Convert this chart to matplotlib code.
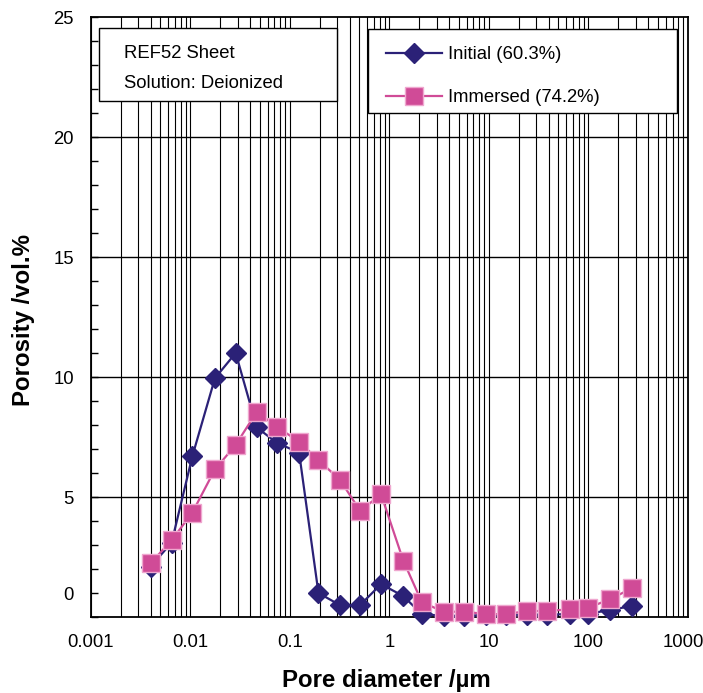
import numpy as np
import matplotlib
matplotlib.use("Agg")
import matplotlib.pyplot as plt
import matplotlib.transforms as mtransforms
from matplotlib.patches import Rectangle
from matplotlib.ticker import LogLocator, NullFormatter, FixedLocator

plt.rcParams['font.family'] = ['Liberation Sans', 'DejaVu Sans']

# pore diameter classes (um), shared by both curves
diameter = [0.004, 0.0065, 0.0105, 0.0177, 0.0286, 0.0466, 0.0739, 0.124,
            0.194, 0.32, 0.509, 0.826, 1.38, 2.12, 3.5, 5.65, 9.4, 14.9,
            24.1, 38.3, 64.6, 100, 165, 273]

initial = [2.1, 3.1, 6.7, 9.95, 11.0, 7.9, 7.26, 6.85,
           1.0, 0.49, 0.5, 1.37, 0.87, 0.12, 0.05, 0.05, 0.08, 0.08,
           0.1, 0.1, 0.12, 0.14, 0.29, 0.46]

immersed = [2.24, 3.2, 4.35, 6.15, 7.17, 8.55, 7.93, 7.3,
            6.54, 5.71, 4.42, 5.11, 2.35, 0.62, 0.22, 0.22, 0.12, 0.12,
            0.25, 0.25, 0.32, 0.39, 0.74, 1.2]

labels = ['Initial (60.3%)', 'Immersed (74.2%)']
info_lines = ['REF52 Sheet', 'Solution: Deionized']

navy = '#2B2177'
pink = '#D04B97'

W, H = 703, 693
fig = plt.figure(figsize=(W / 100, H / 100), dpi=100)
ax = fig.add_axes([90.7 / W, 1 - 617 / H, (688 - 90.7) / W, (617 - 17) / H])

ax.set_xscale('log')
ax.set_xlim(0.001, 1000)
ax.set_ylim(0, 25)

# vertical grid at every log step
ax.xaxis.set_major_locator(LogLocator(base=10, numticks=10))
ax.xaxis.set_minor_locator(LogLocator(base=10, subs=np.arange(2, 10), numticks=100))
ax.xaxis.set_minor_formatter(NullFormatter())
ax.set_xticks([0.001, 0.01, 0.1, 1, 10, 100, 1000])
ax.set_xticklabels(['0.001', '0.01', '0.1', '1', '10', '100', '1000'])
ax.grid(True, which='both', axis='x', color='black', lw=0.8)
for yv in [5, 10, 15, 20]:
    ax.axhline(yv, color='black', lw=1.0, zorder=1)

ax.set_yticks([1, 5, 10, 15, 20, 25])
ax.set_yticklabels(['0', '5', '10', '15', '20', '25'])
ax.yaxis.set_minor_locator(FixedLocator(np.arange(0, 26, 1)))
ax.tick_params(axis='x', which='both', length=0, pad=12, labelsize=13.3)
ax.tick_params(axis='y', which='both', direction='in', length=5, width=1,
               pad=12, labelsize=13.3, right=False)

# last x label sits a bit left of the spine
shift = mtransforms.ScaledTranslation(-5 / 100, 0, fig.dpi_scale_trans)
last = ax.get_xticklabels()[-1]
last.set_transform(last.get_transform() + shift)

for s in ax.spines.values():
    s.set_linewidth(1.3)

ax.plot(diameter, initial, color=navy, lw=1.6, marker='D', ms=10,
        mfc=navy, mec=navy, label=labels[0], zorder=3, clip_on=False)
ax.plot(diameter, immersed, color=pink, lw=1.6, marker='s', ms=12.5,
        mfc=pink, mec='#EFA7CF', mew=1.0, label=labels[1], zorder=4, clip_on=False)

ax.set_xlabel('Pore diameter /µm', fontsize=17.3, fontweight='bold')
ax.xaxis.set_label_coords((386 - 90.7) / (688 - 90.7), -(681 - 617) / 600)
ax.xaxis.label.set_va('center')
ax.set_ylabel('Porosity /vol.%', fontsize=17.3, fontweight='bold')
ax.yaxis.set_label_coords(-(90.7 - 24) / (688 - 90.7), (617 - 320) / 600)
ax.yaxis.label.set_va('center')

# info box
box = Rectangle((99 / W, 1 - 101 / H), (337 - 99) / W, (101 - 28) / H,
                transform=fig.transFigure, facecolor='white', edgecolor='black',
                lw=1.0, zorder=5)
fig.add_artist(box)
for i, line in enumerate(info_lines):
    fig.text(124 / W, 1 - (54 + 29 * i) / H, line, fontsize=13.3,
             va='center', ha='left', zorder=6)

# legend frame drawn separately so the rows can be placed freely
frame = Rectangle((368 / W, 1 - 113 / H), (677 - 368) / W, (113 - 29) / H,
                  transform=fig.transFigure, facecolor='white', edgecolor='black',
                  lw=1.0, zorder=9, clip_on=False)
ax.add_patch(frame)
leg = ax.legend(loc='upper left', bbox_to_anchor=(386 / W, 1 - 46 / H),
                bbox_transform=fig.transFigure, fontsize=13.3, frameon=False,
                handlelength=3.03, handletextpad=0.32, borderpad=0,
                labelspacing=1.42, borderaxespad=0)
leg.set_zorder(10)

fig.savefig('out.png', dpi=100)
